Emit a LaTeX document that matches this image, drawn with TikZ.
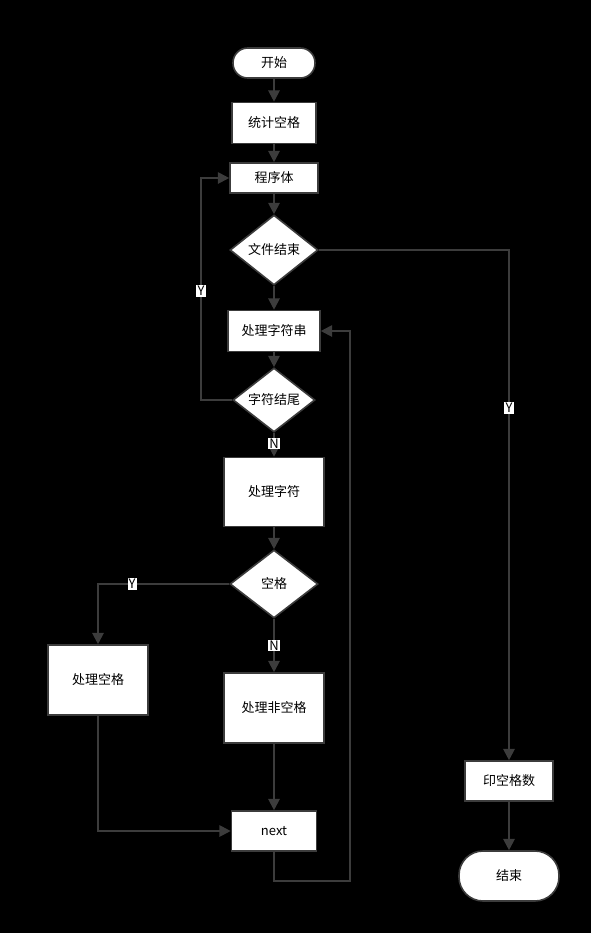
\documentclass[tikz,border=0pt]{standalone}
\usepackage{fontspec}
\newfontfamily\cjk{Noto Sans CJK SC}
\usetikzlibrary{shapes.geometric,arrows.meta}
\definecolor{ln}{HTML}{3C3C3C}
\tikzset{
  box/.style={draw=ln,line width=1.2pt,fill=white,inner sep=0pt,font=\cjk\fontsize{9.75}{12}\selectfont,text=black},
  rbox/.style={box,rectangle},
  term/.style={box,rectangle,rounded corners=#1},
  dia/.style={box,diamond},
  conn/.style={draw=ln,line width=1.5pt,-{Triangle[length=8.5pt,width=8.5pt]}},
  plain/.style={draw=ln,line width=1.5pt},
  lab/.style={fill=white,text=black,inner sep=0.8pt,font=\cjk\fontsize{9.75}{10}\selectfont}
}
\begin{document}
\begin{tikzpicture}[x=0.75pt,y=-0.75pt]
\fill[black] (0,0) rectangle (591,933);
\useasboundingbox (0,0) rectangle (591,933);
\node[term=11pt,minimum width=61.5pt,minimum height=22.5pt] (start) at (274,63) {开始};
\node[rbox,minimum width=63pt,minimum height=30.75pt] (count) at (274,123) {统计空格};
\node[rbox,minimum width=66pt,minimum height=22.5pt] (prog) at (274,178) {程序体};
\node[dia,minimum width=66pt,minimum height=52.5pt] (eof) at (274,250) {文件结束};
\node[rbox,minimum width=69pt,minimum height=30.75pt] (str) at (274,331) {处理字符串};
\node[dia,minimum width=61.5pt,minimum height=45pt] (eos) at (274,400) {字符结尾};
\node[rbox,minimum width=75pt,minimum height=51.75pt] (chr) at (274,492) {处理字符};
\node[dia,minimum width=66pt,minimum height=51pt] (sp) at (274,584) {空格};
\node[rbox,minimum width=75pt,minimum height=52.5pt] (dosp) at (98,680) {处理空格};
\node[rbox,minimum width=75pt,minimum height=52.5pt] (nosp) at (274,708) {处理非空格};
\node[rbox,minimum width=63.75pt,minimum height=30pt] (next) at (274,831) {next};
\node[rbox,minimum width=66pt,minimum height=30pt] (print) at (509,781) {印空格数};
\node[term=18pt,minimum width=75pt,minimum height=37.5pt] (end) at (509,876) {结束};

\coordinate (c1) at (509,250);
\coordinate (c2) at (201,400);
\coordinate (c3) at (201,178);
\coordinate (c4) at (98,584);
\coordinate (c5) at (98,831);
\coordinate (c6) at (274,881);
\coordinate (c7) at (350,881);
\coordinate (c8) at (350,331);

\draw[conn] (start) -- (count);
\draw[conn] (count) -- (prog);
\draw[conn] (prog) -- (eof);
\draw[conn] (eof) -- (str);
\draw[conn] (eof.east) -- (c1) -- node[lab,pos=0.31]{Y} (print.north);
\draw[conn] (str) -- (eos);
\draw[conn] (eos.west) -- (c2) -- node[lab,pos=0.49]{Y} (c3) -- (prog.west);
\draw[conn] (eos.south) -- node[lab,pos=0.45]{N} (chr.north);
\draw[conn] (chr) -- (sp);
\draw[conn] (sp.west) -- node[lab,pos=0.74]{Y} (c4) -- (dosp.north);
\draw[conn] (sp.south) -- node[lab,pos=0.5]{N} (nosp.north);
\draw[conn] (dosp.south) -- (c5) -- (next.west);
\draw[conn] (nosp.south) -- (next.north);
\draw[conn] (next.south) -- (c6) -- (c7) -- (c8) -- (str.east);
\draw[conn] (print) -- (end);
\end{tikzpicture}
\end{document}
